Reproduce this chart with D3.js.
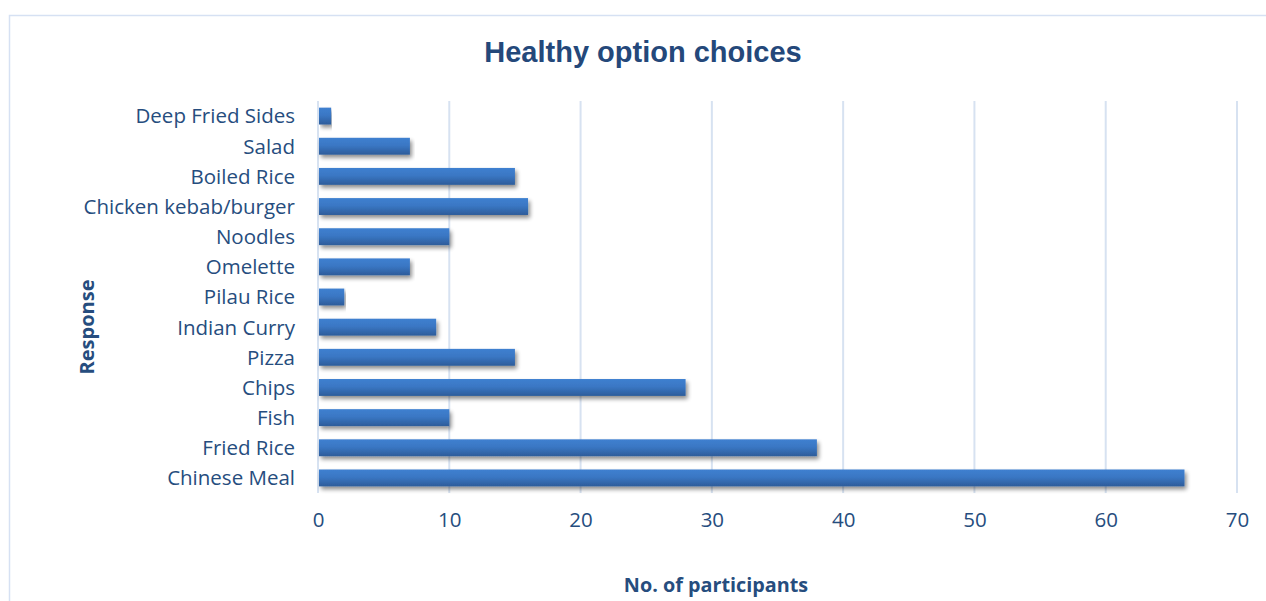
<!DOCTYPE html>
<html>
<head>
<meta charset="utf-8">
<script src="https://cdn.jsdelivr.net/npm/d3@7"></script>
<style>
  html, body { margin: 0; padding: 0; background: #fff; }
  svg { display: block; }
</style>
</head>
<body>
<svg id="chart" width="1266" height="601"></svg>
<script>
// Responses, top to bottom as listed on the chart
const categories = [
  "Deep Fried Sides", "Salad", "Boiled Rice", "Chicken kebab/burger", "Noodles",
  "Omelette", "Pilau Rice", "Indian Curry", "Pizza", "Chips", "Fish",
  "Fried Rice", "Chinese Meal"
];
const participants = [1, 7, 15, 16, 10, 7, 2, 9, 15, 28, 10, 38, 66];
const xTicks = [0, 10, 20, 30, 40, 50, 60, 70];

const titleText = "Healthy option choices";
const xTitle = "No. of participants";
const yTitle = "Response";

const svg = d3.select("#chart");
const textColor = "#264d7e";
const gridColor = "#d7e2f1";
const bodyFont = "'Open Sans', 'Noto Sans', sans-serif";

// outer frame
svg.append("rect")
  .attr("x", 9.5).attr("y", 15.5)
  .attr("width", 1300).attr("height", 700)
  .attr("fill", "none").attr("stroke", "#d6e1f3").attr("stroke-width", 1.5);

const plotLeft = 318, plotRight = 1237, plotTop = 101, plotBottom = 493;

const x = d3.scaleLinear().domain([0, 70]).range([plotLeft, plotRight]);
const y = d3.scaleBand().domain(categories).range([plotTop, plotBottom]).paddingInner(0.44).paddingOuter(0.22);

const defs = svg.append("defs");
const grad = defs.append("linearGradient").attr("id", "barGrad")
  .attr("x1", 0).attr("y1", 0).attr("x2", 0).attr("y2", 1);
grad.append("stop").attr("offset", "0%").attr("stop-color", "#3f80d0");
grad.append("stop").attr("offset", "45%").attr("stop-color", "#3a77c4");
grad.append("stop").attr("offset", "100%").attr("stop-color", "#2d5c9a");

const shadow = defs.append("filter").attr("id", "barShadow")
  .attr("x", "-5%").attr("y", "-50%").attr("width", "110%").attr("height", "250%");
shadow.append("feGaussianBlur").attr("in", "SourceAlpha").attr("stdDeviation", 2.2).attr("result", "blur");
shadow.append("feOffset").attr("in", "blur").attr("dx", 2).attr("dy", 3).attr("result", "off");
shadow.append("feComponentTransfer").attr("in", "off").attr("result", "soft")
  .append("feFuncA").attr("type", "linear").attr("slope", 0.45);
const merge = shadow.append("feMerge");
merge.append("feMergeNode").attr("in", "soft");
merge.append("feMergeNode").attr("in", "SourceGraphic");

// vertical gridlines
svg.append("g").selectAll("line")
  .data(xTicks.filter(d => d > 0))
  .join("line")
  .attr("x1", d => x(d)).attr("x2", d => x(d))
  .attr("y1", plotTop).attr("y2", plotBottom)
  .attr("stroke", gridColor).attr("stroke-width", 2);

// category axis line
svg.append("line")
  .attr("x1", x(0)).attr("x2", x(0))
  .attr("y1", plotTop).attr("y2", plotBottom)
  .attr("stroke", gridColor).attr("stroke-width", 2);

// bars
svg.append("g").selectAll("rect")
  .data(categories.map((c, i) => ({ c, v: participants[i] })))
  .join("rect")
  .attr("x", x(0) + 1)
  .attr("y", d => y(d.c))
  .attr("width", d => x(d.v) - x(0) - 1)
  .attr("height", y.bandwidth())
  .attr("fill", "url(#barGrad)")
  .attr("filter", "url(#barShadow)");

// category labels
const yAxis = d3.axisLeft(y).tickSize(0).tickPadding(23);
const gy = svg.append("g").attr("transform", `translate(${x(0)},0)`).call(yAxis);
gy.select(".domain").remove();
gy.selectAll("text")
  .attr("fill", textColor)
  .style("font-family", bodyFont)
  .style("font-size", "20.5px")
  .attr("dy", "0.36em");

// value axis labels
const xAxis = d3.axisBottom(x).tickValues(xTicks).tickSize(0).tickPadding(19);
const gx = svg.append("g").attr("transform", `translate(0,${plotBottom})`).call(xAxis);
gx.select(".domain").remove();
gx.selectAll("text")
  .attr("fill", textColor)
  .style("font-family", bodyFont)
  .style("font-size", "20.5px");

// titles
svg.append("text")
  .attr("x", 643).attr("y", 62)
  .attr("text-anchor", "middle")
  .attr("fill", "#24487a")
  .style("font-family", "'Liberation Sans', Arial, sans-serif")
  .style("font-weight", "bold")
  .style("font-size", "29px")
  .text(titleText);

svg.append("text")
  .attr("x", 716).attr("y", 592)
  .attr("text-anchor", "middle")
  .attr("fill", textColor)
  .style("font-family", bodyFont)
  .style("font-weight", "bold")
  .style("font-size", "19.8px")
  .text(xTitle);

svg.append("text")
  .attr("transform", "translate(94,327) rotate(-90)")
  .attr("text-anchor", "middle")
  .attr("fill", textColor)
  .style("font-family", bodyFont)
  .style("font-weight", "bold")
  .style("font-size", "20px")
  .text(yTitle);
</script>
</body>
</html>
